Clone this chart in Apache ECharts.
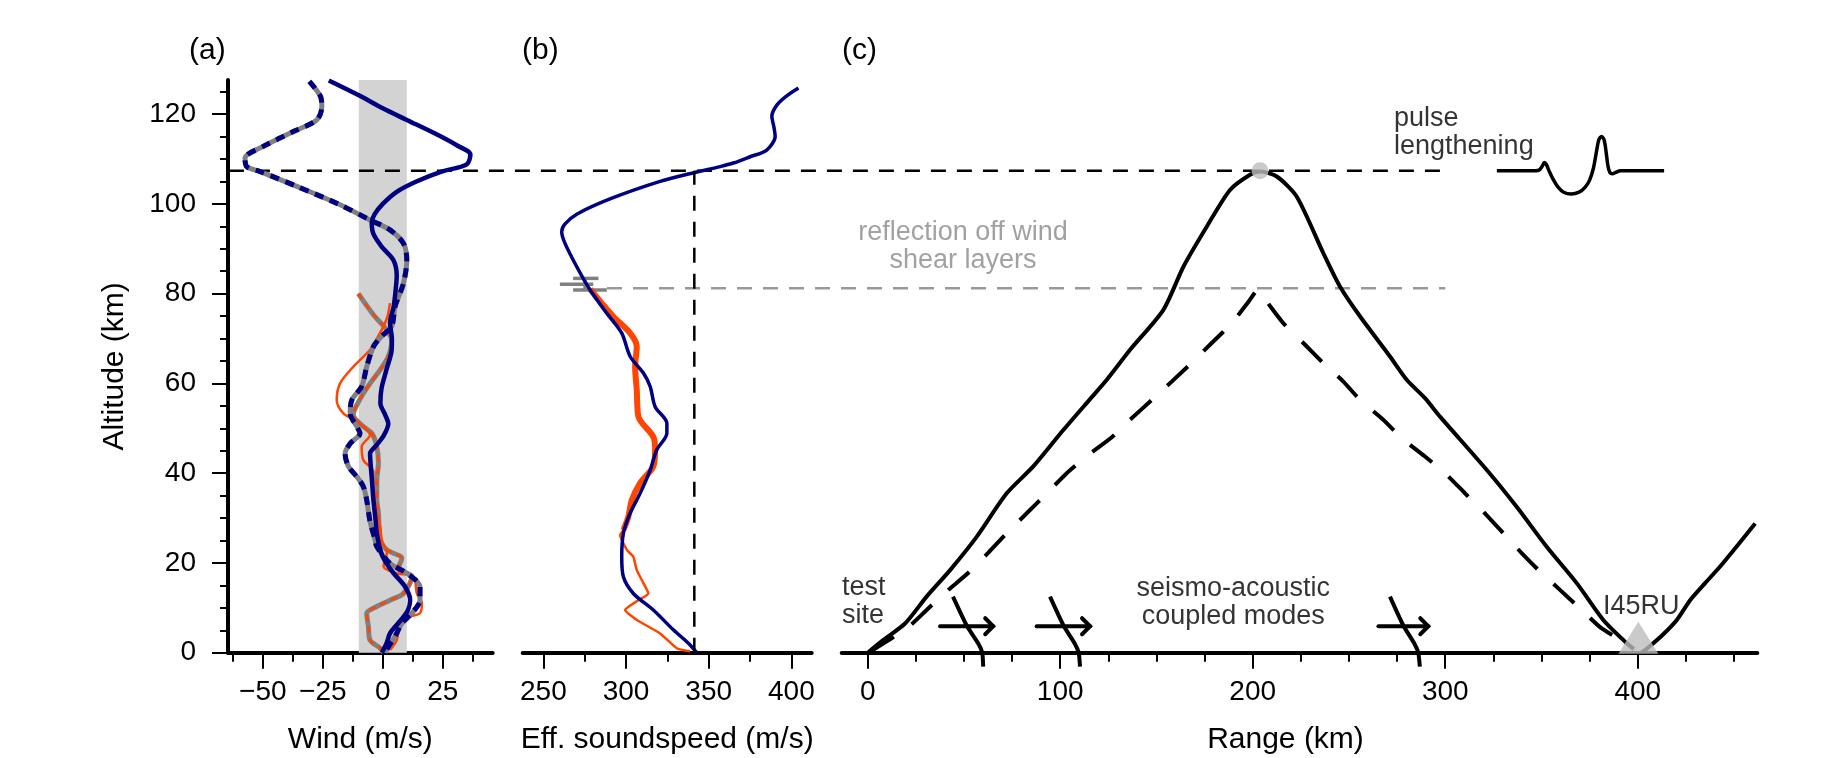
<!DOCTYPE html>
<html lang="en">
<head>
<meta charset="UTF-8">
<title>Wind, effective soundspeed and ray paths</title>
<script src="https://cdn.jsdelivr.net/npm/echarts@6.0.0/dist/echarts.min.js"></script>
<style>
  html, body { margin: 0; padding: 0; background: #fff; }
  #main { width: 1836px; height: 758px; }
</style>
</head>
<body>
<div id="main"></div>
<script>
// ---------- data ----------
// panel (a): wind [m/s, km]
var windNavySolid = [[-22.5,127.5],[-10,124.2],[0,121.3],[10,118.7],[22,115.6],[31,113],[36.5,111],[35,108.8],[24.5,107.2],[14,105],[5.8,102.7],[0,100],[-3.5,97.6],[-4.6,95.8],[-3.9,93.3],[-0.5,90.5],[4.4,87.5],[5.8,84],[5.3,80.5],[4.5,77],[3,73.5],[3.8,70],[3.7,67.5],[1.5,63],[-0.5,59],[-1,55.6],[1,53],[2.3,51],[0.3,48.3],[-3,46],[-5.3,44.4],[-5,41.5],[-4.6,39],[-3.9,34],[-3,29.5],[-2.5,26.6],[-0.5,22],[2,19.5],[4.5,17.7],[9.3,14.7],[11.4,11.7],[10.5,9.5],[8.6,8],[5.5,6],[3,4.3],[1.5,2],[-0.4,0]];
var windNavyDashed = [[-30.6,127.3],[-26,124],[-25.4,121.7],[-27.5,118.7],[-37.3,116.1],[-49.8,112.8],[-57.4,110.2],[-56.7,108.3],[-51.1,107.2],[-35.8,103.9],[-17.8,99.8],[-5.3,96.4],[3,94.2],[8.6,91.2],[10,87.5],[8.6,82.3],[5.1,77.1],[3.7,72.7],[-0.5,70.5],[-3.9,68.2],[-6.7,63.7],[-8.8,59.3],[-12.9,56.3],[-13.6,53.3],[-10.8,50.4],[-9.5,48.9],[-13.6,46.6],[-15.7,44.4],[-14.3,41.5],[-10.8,39.2],[-8.1,37],[-6.7,34],[-5.3,29.2],[-3.2,25.1],[-2.5,23.6],[3,19.9],[10,17.7],[15.5,14.7],[15.5,11.7],[12.1,8.8],[7.9,6.5],[5.1,3.6],[2.3,1.3],[1,0]];
var windOrangeSolid = [[3,77.9],[2,75],[0.3,72.7],[-2.5,70],[-5.3,67.5],[-12.3,63.7],[-17.8,60],[-19.2,56.3],[-16.4,53.3],[-10.8,51.5],[-5.3,48.5],[-8.8,45.9],[-8.1,42.9],[-3.9,40.3],[-3.9,37],[-2.5,31.1],[-1.1,28.1],[-0.4,25.1],[1.7,22.2],[0.3,19.2],[5.8,17.7],[12.8,16.9],[14.2,13.2],[16.3,11],[15.5,8.8],[11.4,8],[7.2,5.8],[5.8,2.8],[3,0.6]];
var windOrangeDashed = [[-10.2,80],[-3.9,75.3],[1.7,71.9],[3.7,69.5],[2.3,66],[-1.1,63],[-5.3,60],[-9.5,56.5],[-12.3,53],[-8.1,50.4],[-4.6,48.9],[-2.5,45.9],[-1.8,42.2],[-2.5,38.5],[-2.5,34],[-1.8,31.1],[-1.1,25.1],[1.7,22.9],[7.9,21],[6.5,18.8],[12.1,16.9],[8.6,13.2],[3,11.7],[-2.5,10.3],[-6.7,8.8],[-6,5.8],[-5.3,2.8],[-1.1,1],[0.3,0]];
var windBand = [-10, 10];

// panel (b): effective soundspeed [m/s, km]
var ceffNavy = [[404.3,125.8],[397,124],[391.2,122],[388.2,119.5],[389.5,117],[390.2,115],[385.1,112],[375,110.5],[364.9,109.1],[356.9,108.3],[341.5,107],[320.6,105],[290.3,101.1],[270.2,97.7],[263,95.5],[261.1,93.8],[263.1,91.2],[270.2,86],[278.3,80.8],[288.4,75.6],[297.4,71.2],[302.5,66],[310.5,62.3],[314.6,59.3],[317.6,54.8],[324.7,51.1],[324.7,48.9],[318.6,45.2],[314.6,40.7],[308.5,35.5],[302.5,31.1],[298.4,26.6],[297.4,21.4],[298.4,16.9],[304.4,13.2],[316.5,9.5],[328.6,5.1],[337.7,2.1],[342.8,0]];
var ceffOrangeThick = [[278.3,81],[285,78],[292.3,74.9],[302.5,71.2],[306.5,68.2],[305.5,63.7],[306.5,58.5],[307.5,52.6],[316.5,48.1],[317.6,45.2],[316.5,41.5],[308.5,37.8],[303.5,34],[301.4,30.3],[298.4,27.3]];
var ceffOrangeThin = [[298.4,27.3],[296.4,26.2],[300.5,22.9],[304.4,21.4],[306.5,18.4],[310.5,15.5],[313.5,13.2],[307.5,11.7],[299.4,9.5],[306.5,7.3],[320.6,4.3],[330.7,1],[338.7,0.3]];
var errBarH = [[268,283.3,83.4],[260,280.2,82.1],[268,288.4,80.8]]; // [c0, c1, alt]
var errBarV = [[275.2,80.8,83.4]];                                // [c, alt0, alt1]
var ceffTurn = 341.3;

// panel (c): ray paths [km range, km altitude]
var rayThermo = [[0,0],[8,2.8],[19.4,6.5],[30.6,12.5],[42.8,18.4],[56.6,25.8],[72.2,35.5],[86,41.5],[101.6,49.6],[115.5,56.5],[124.2,60.8],[136.3,67.5],[153.6,76.4],[164,86],[176.1,94.9],[188.2,103.1],[198.6,106.5],[203.8,107.2],[212.5,106.1],[222.9,101.6],[236.7,89],[245.3,81.6],[255.8,74.9],[271.3,66],[280,60.8],[289.5,56.7],[297.3,52.6],[321.6,40.7],[337.1,32.5],[352.7,23.6],[368.3,15.5],[382.1,7.3],[394.3,2.1],[398,0.8]];
var rayShear = [[1.2,0.2],[20.3,5.4],[30.6,9.5],[41.9,14],[52.3,17.8],[62.7,22.3],[72.2,26.6],[83.4,31.4],[93,35.5],[103.4,40],[113.8,43.8],[126.8,48],[136.3,51.9],[147.5,56.3],[157.9,60.4],[169.1,64.9],[178.7,69],[189.1,73.4],[197.8,78.2],[202.6,80.8],[207.3,78.2],[215.9,73.4],[226.3,69],[236.7,64.5],[247.1,60.4],[255.8,56.3],[267.8,51.9],[277.4,47.8],[289.5,43.7],[299.9,40],[310.3,35.5],[319.8,31.4],[330.2,26.6],[339.7,22.2],[350.1,17.7],[359.6,14],[370.9,9.5],[381.3,5.4],[394.3,2.1]];
var rayBeyond = [[402,0],[406.4,1.5],[413,4],[420.3,7.3],[427.2,11.7],[435,15.5],[442.8,19.2],[452,24],[461,28.8]];
var pulseTrace = [[326.8,107.4],[347,107.4],[349,107.6],[350.5,108.5],[351.5,109.2],[352.5,108.8],[354,107.3],[356,105.5],[358.5,103.8],[361.5,102.6],[365.5,102.2],[369.5,102.6],[372.5,103.6],[375,105.3],[377,108],[378.5,111.5],[379.8,114.3],[381.2,115],[382.5,114.3],[383.5,111.8],[384.5,108.5],[385.5,107],[386.8,106.7],[388.5,107],[391,107.4],[413.7,107.4]];
var modeFronts = [
  [[44.3,12.5],[51.5,6],[57.5,2],[59.5,0],[60,-3.1]],
  [[94.7,12.5],[101.8,6],[107.6,2],[109.6,0],[110.3,-3.1]],
  [[271.3,12.5],[278.3,6],[284,2],[286,0],[286.8,-3.1]]
];
var modeArrows = [[37.6,65.2,5.9],[87.8,115.5,5.9],[265.3,291.2,5.9]]; // [x0, x1, alt]
var turnPoint = [[203.8,107.4]];
var station = [[400.3,0]];
// guide lines in range units of panel (c), running back across (a) and (b): [x0, x1, alt]
var turnLine = [[-331.8,300,107.4]];
var shearLine = [[-135.4,300,81.2]];

var notes = [
  {name: 'reflection off wind\nshear layers', value: [49.5,90.5], align: 'center', color: '#8a8a8a'},
  {name: 'pulse\nlengthening', value: [273.4,116.0], align: 'left', color: '#000'},
  {name: 'test\nsite', value: [-13.4,11.5], align: 'left', color: '#000'},
  {name: 'seismo-acoustic\ncoupled modes', value: [189.9,11.2], align: 'center', color: '#000'},
  {name: 'I45RU', value: [401.8,10.3], align: 'center', color: '#000'}
];

var altMajor = [0,20,40,60,80,100,120];
var altMinor = [5,10,15,25,30,35,45,50,55,65,70,75,85,90,95,105,110,115,125];
var windMajor = [-50,-25,0,25], windMinor = [-62.5,-37.5,-12.5,12.5,37.5];
var ceffMajor = [250,300,350,400], ceffMinor = [275,325,375];
var rangeMajor = [0,100,200,300,400];
var rangeMinor = [25,50,75,125,150,175,225,250,275,325,350,375,425,450];

// ---------- chart ----------
var FONT = 'Liberation Sans, Arial, Helvetica, sans-serif';
var NAVY = '#000080', ORANGE = '#ff4500', GREY = '#808080';
var altMax = 127.6;

function majorX(grid, min, max, ticks, name, namePad) {
  return {
    type: 'value', gridIndex: grid, min: min, max: max, position: 'bottom',
    name: name, nameLocation: 'middle', nameGap: 72,
    nameTextStyle: {fontFamily: FONT, fontSize: 30, color: '#000', padding: namePad || 0},
    axisLine: {show: true, onZero: false, lineStyle: {color: '#000', width: 4}},
    axisTick: {show: true, customValues: ticks, length: 16, lineStyle: {color: '#000', width: 2}},
    axisLabel: {show: true, customValues: ticks, margin: 26, fontFamily: FONT, fontSize: 28, color: '#000',
      formatter: function (v) { return String(v).replace('-', '\u2212'); }},
    splitLine: {show: false}
  };
}
function minorX(grid, min, max, ticks) {
  return {
    type: 'value', gridIndex: grid, min: min, max: max, position: 'bottom',
    axisLine: {show: false, onZero: false},
    axisTick: {show: true, customValues: ticks, length: 9, lineStyle: {color: '#000', width: 2}},
    axisLabel: {show: false}, splitLine: {show: false}
  };
}
function hiddenY(grid) {
  return {type: 'value', gridIndex: grid, min: 0, max: altMax, show: false, splitLine: {show: false}};
}

var grids = [
  {left: 228, top: 80, width: 264.7, height: 572.7, outerBoundsMode: 'none'},
  {left: 522.7, top: 80, width: 289, height: 572.7, outerBoundsMode: 'none'},
  {left: 841.7, top: 80, width: 915.6, height: 572.7, outerBoundsMode: 'none'}
];

function line(data, xi, yi, color, width, dash, extra) {
  var s = {
    type: 'line', data: data, xAxisIndex: xi, yAxisIndex: yi,
    showSymbol: false, symbol: 'none', smooth: 0.3, silent: true, clip: false,
    lineStyle: {color: color, width: width, type: dash || 'solid'}
  };
  for (var k in extra) s[k] = extra[k];
  return s;
}

// horizontal segments [x0, x1, y] drawn unclipped through the axis scales
function hSegments(data, xi, yi, color, width, dash) {
  return {
    type: 'custom', xAxisIndex: xi, yAxisIndex: yi, silent: true, clip: false, data: data, z: 3,
    renderItem: function (params, api) {
      var a = api.coord([api.value(0), api.value(2)]);
      var b = api.coord([api.value(1), api.value(2)]);
      return {type: 'line', shape: {x1: a[0], y1: a[1], x2: b[0], y2: b[1]},
        style: {stroke: color, lineWidth: width, lineDash: dash || null}};
    }
  };
}

var series = [
  // panel (a)
  line(windOrangeDashed, 0, 0, GREY, 5, null, {
    markArea: {silent: true, itemStyle: {color: '#d3d3d3'},
      data: [[{xAxis: windBand[0], yAxis: 0}, {xAxis: windBand[1], yAxis: altMax}]]}
  }),
  line(windOrangeDashed, 0, 0, ORANGE, 2.5, [7, 5]),
  line(windOrangeSolid, 0, 0, ORANGE, 2.5),
  line(windNavyDashed, 0, 0, GREY, 5),
  line(windNavyDashed, 0, 0, NAVY, 5, [9, 7]),
  line(windNavySolid, 0, 0, NAVY, 4.5),
  // panel (b)
  line(ceffOrangeThick, 2, 2, ORANGE, 6),
  line(ceffOrangeThin, 2, 2, ORANGE, 2.5, null, {smooth: 0.15}),
  line(ceffNavy, 2, 2, NAVY, 3.5),
  line([[ceffTurn, 0], [ceffTurn, turnLine[0][2]]], 2, 2, '#000', 2.5, [15, 11], {smooth: false}),
  hSegments(errBarH, 2, 2, GREY, 3.5),
  {
    type: 'custom', xAxisIndex: 2, yAxisIndex: 2, silent: true, clip: false, data: errBarV,
    renderItem: function (params, api) {
      var a = api.coord([api.value(0), api.value(1)]);
      var b = api.coord([api.value(0), api.value(2)]);
      return {type: 'line', shape: {x1: a[0], y1: a[1], x2: b[0], y2: b[1]},
        style: {stroke: GREY, lineWidth: 3.5}};
    }
  },
  // panel (c)
  hSegments(turnLine, 4, 3, '#000', 2.5, [15, 11]),
  hSegments(shearLine, 4, 3, '#999', 2.5, [15, 11]),
  line(rayThermo, 4, 3, '#000', 4, null, {smooth: 0.25}),
  line(rayShear, 4, 3, '#000', 4, [28, 22], {smooth: 0.2}),
  line(rayBeyond, 4, 3, '#000', 4, null, {smooth: 0.2}),
  line(pulseTrace, 4, 3, '#000', 3.5, null, {smooth: 0.3})
];
modeFronts.forEach(function (f) {
  series.push(line(f, 4, 3, '#000', 4, null, {smooth: 0.2}));
});
series.push({
  type: 'custom', xAxisIndex: 4, yAxisIndex: 3, silent: true, clip: false, data: modeArrows,
  renderItem: function (params, api) {
    var s = api.coord([api.value(0), api.value(2)]);
    var e = api.coord([api.value(1), api.value(2)]);
    var st = {stroke: '#000', lineWidth: 4, fill: null, lineCap: 'round', lineJoin: 'miter'};
    return {type: 'group', children: [
      {type: 'line', shape: {x1: s[0], y1: s[1], x2: e[0], y2: e[1]}, style: st},
      {type: 'polyline', shape: {points: [[e[0] - 8, e[1] - 8], [e[0], e[1]], [e[0] - 8, e[1] + 8]]}, style: st}
    ]};
  }
});
series.push({
  type: 'scatter', xAxisIndex: 4, yAxisIndex: 3, silent: true, data: turnPoint,
  symbol: 'circle', symbolSize: 17, itemStyle: {color: '#bdbdbd'}, z: 5
});
series.push({
  type: 'scatter', xAxisIndex: 4, yAxisIndex: 3, silent: true, clip: false, data: station,
  symbol: 'triangle', symbolSize: [40, 32], symbolOffset: [0, -15], itemStyle: {color: '#bdbdbd'}, z: 5
});
series.push({
  type: 'scatter', xAxisIndex: 4, yAxisIndex: 3, silent: true, clip: false,
  symbolSize: 1, itemStyle: {color: 'transparent'},
  data: notes.map(function (n) {
    return {name: n.name, value: n.value,
      label: {show: true, position: 'inside', align: n.align, verticalAlign: 'middle',
        formatter: '{b}', fontFamily: FONT, fontSize: 27, lineHeight: 28, color: n.color}};
  })
});

var option = {
  animation: false,
  backgroundColor: '#fff',
  grid: grids,
  graphic: [
    {type: 'text', left: 189, top: 36, style: {text: '(a)', font: '30px ' + FONT, fill: '#000'}},
    {type: 'text', left: 522, top: 36, style: {text: '(b)', font: '30px ' + FONT, fill: '#000'}},
    {type: 'text', left: 842, top: 36, style: {text: '(c)', font: '30px ' + FONT, fill: '#000'}}
  ],
  xAxis: [
    majorX(0, -64.5, 45.8, windMajor, 'Wind (m/s)'),
    minorX(0, -64.5, 45.8, windMinor),
    majorX(1, 237.5, 412.3, ceffMajor, 'Eff. soundspeed (m/s)'),
    minorX(1, 237.5, 412.3, ceffMinor),
    majorX(2, -13.5, 462.1, rangeMajor, 'Range (km)', [0, 28, 0, 0]),
    minorX(2, -13.5, 462.1, rangeMinor)
  ],
  yAxis: [
    {
      type: 'value', gridIndex: 0, min: 0, max: altMax, position: 'left',
      name: 'Altitude (km)', nameLocation: 'middle', nameGap: 98,
      nameTextStyle: {fontFamily: FONT, fontSize: 30, color: '#000'},
      axisLine: {show: true, onZero: false, lineStyle: {color: '#000', width: 4}},
      axisTick: {show: true, customValues: altMajor, length: 16, lineStyle: {color: '#000', width: 2}},
      axisLabel: {show: true, customValues: altMajor, margin: 32, fontFamily: FONT, fontSize: 28, color: '#000'},
      splitLine: {show: false}
    },
    {
      type: 'value', gridIndex: 0, min: 0, max: altMax, position: 'left',
      axisLine: {show: false, onZero: false},
      axisTick: {show: true, customValues: altMinor, length: 8, lineStyle: {color: '#000', width: 2}},
      axisLabel: {show: false}, splitLine: {show: false}
    },
    hiddenY(1),
    hiddenY(2)
  ],
  series: series
};

var chart = echarts.init(document.getElementById('main'), null, {renderer: 'canvas'});
chart.setOption(option);
</script>
</body>
</html>
